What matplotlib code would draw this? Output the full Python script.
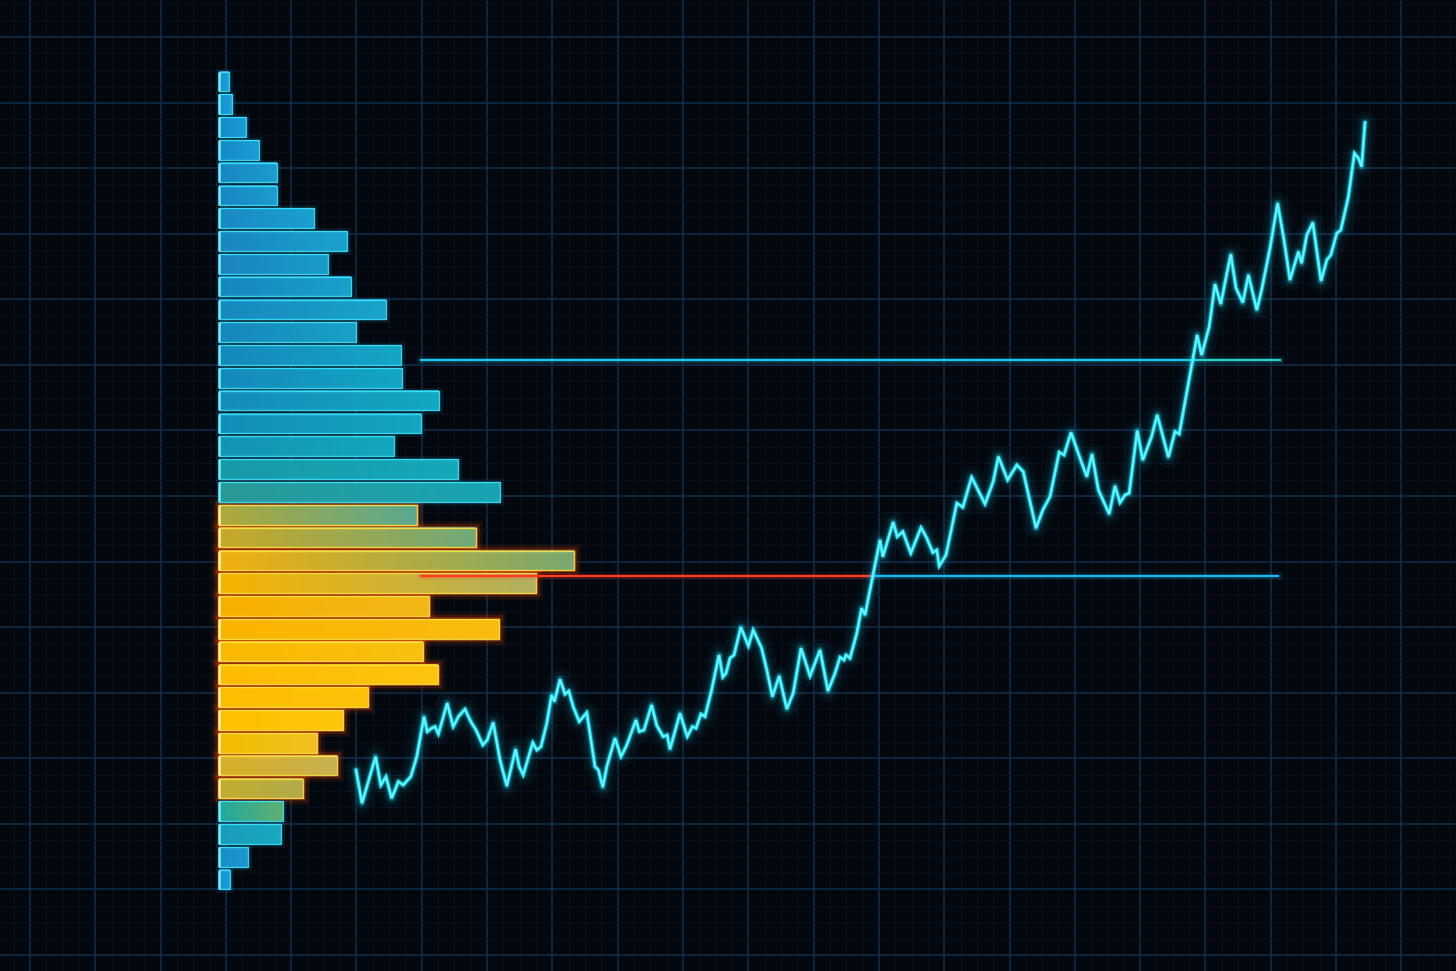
import numpy as np
import matplotlib
matplotlib.use("Agg")
import matplotlib.pyplot as plt
from matplotlib.colors import LinearSegmentedColormap
from matplotlib.patches import Rectangle
from matplotlib.ticker import MultipleLocator

# ---------------- data ----------------
# volume profile (top price bin first), volume in thousands
profile_low, profile_high = 99.9, 140.95
volume_top_down = [2.0, 2.6, 5.4, 8.0, 11.6, 11.6, 19.0, 25.6, 21.8, 26.4, 33.4, 27.4,
                   36.4, 36.6, 44.0, 40.4, 35.0, 47.8, 56.2, 39.6, 51.4, 71.0, 63.4, 42.0,
                   56.0, 40.8, 43.8, 29.8, 24.8, 19.6, 23.6, 16.8, 12.8, 12.4, 5.8, 2.2]

# price path (time in days, price)
time = [0.0, 1.5, 4.9, 6.2, 7.5, 8.9, 10.6, 11.8, 13.7, 15.2, 17.0, 17.8, 18.9, 19.75, 20.6,
        22.8, 24.3, 25.6, 27.25, 28.7, 30.0, 31.7, 32.8, 34.3, 36.0, 37.7, 39.9, 40.8, 41.8,
        44.2, 45.2, 46.25, 47.7, 48.9, 49.6, 51.0, 52.25, 53.2, 54.3, 55.8, 57.7, 59.75, 60.6,
        61.7, 62.7, 64.75, 66.25, 67.7, 70.0, 70.8, 72.0, 73.9, 75.2, 76.8, 77.8, 78.5, 81.0,
        82.8, 84.1, 85.0, 86.25, 87.25, 88.9, 90.75, 91.7, 92.5, 93.5, 94.5, 96.2, 98.1, 99.3,
        101.4, 102.7, 104.1, 105.8, 107.7, 109.3, 111.25, 113.5, 116.0, 118.0, 119.75, 121.0,
        122.0, 122.5, 123.5, 125.2, 126.4, 127.25, 131.0, 131.7, 134.3, 135.3, 136.7, 138.7,
        141.25, 142.7, 144.2, 145.2, 145.8, 147.5, 150.2, 151.7, 153.9, 157.25, 159.3, 160.6,
        162.9, 165.2, 166.8, 170.0, 171.7, 173.5, 175.8, 177.0, 178.75, 181.0, 182.7, 184.0,
        185.6, 188.3, 189.75, 191.0, 192.25, 193.3, 195.3, 196.7, 198.9, 200.3, 203.1, 204.75,
        205.8, 210.3, 211.4, 213.3, 214.75, 216.2, 217.25, 218.7, 220.0, 221.7, 223.1, 225.2,
        226.4, 228.5, 230.4, 232.0, 233.5, 235.6, 236.4, 237.7, 239.2, 241.25, 242.7, 243.7,
        245.2, 246.2, 248.1, 249.6, 250.6, 251.4, 252.25]
price = [105.95, 104.29, 106.62, 105.19, 105.62, 104.54, 105.37, 105.20, 105.62, 106.62,
         108.62, 107.87, 108.04, 108.12, 107.75, 109.29, 108.12, 108.62, 108.99, 108.37,
         107.95, 107.20, 107.45, 108.32, 106.45, 105.15, 106.99, 106.12, 105.70, 107.32,
         106.95, 107.12, 108.29, 109.70, 109.37, 110.49, 109.74, 109.90, 109.12, 108.37,
         108.82, 106.12, 105.95, 105.09, 106.12, 107.54, 106.62, 107.20, 108.45, 107.87,
         107.95, 109.20, 108.17, 107.62, 107.70, 106.99, 108.79, 107.62, 108.12, 108.04,
         108.75, 108.62, 109.95, 111.70, 110.59, 110.79, 111.54, 111.70, 113.09, 112.15,
         112.95, 112.04, 110.95, 109.62, 110.65, 109.00, 109.79, 112.04, 110.65, 111.95,
         109.90, 110.79, 111.59, 111.45, 111.70, 111.54, 112.79, 114.04, 113.70, 117.45,
         116.62, 118.34, 117.62, 117.87, 116.79, 118.07, 117.54, 116.82, 116.95, 116.15,
         116.70, 119.29, 119.09, 120.59, 119.25, 120.37, 121.62, 120.45, 121.20, 120.87,
         118.04, 118.95, 119.62, 121.84, 121.70, 122.82, 121.54, 120.62, 121.74, 119.95,
         118.75, 120.15, 119.32, 119.70, 119.79, 122.92, 121.45, 122.62, 123.70, 121.59,
         122.87, 122.75, 127.70, 126.70, 128.12, 130.24, 129.25, 130.32, 131.74, 130.04,
         129.32, 130.70, 128.95, 129.95, 132.04, 134.29, 132.45, 130.45, 131.87, 131.29,
         132.70, 133.32, 130.40, 131.45, 131.70, 132.79, 132.95, 134.62, 136.79, 136.54,
         136.12, 138.32]

value_area_high = 126.45
value_area_low = 115.65
level_start, vah_end, val_end = 16.25, 231.0, 230.5

# ---------------- styles ----------------
BG = "#03080f"
bar_left = ['#1a8fd0', '#1a8fd0', '#1888c8', '#1888c8', '#1a86c2', '#1a86c2', '#1a88c4',
            '#1a86c0', '#1a84c0', '#1886be', '#1888be', '#1886bc', '#1688bc', '#1689ba',
            '#168cba', '#148eb8', '#1494b6', '#1a9aa8', '#2a9a98', '#b0a83a', '#c8a828',
            '#f0b010', '#f6b400', '#f8b000', '#fab400', '#fbb800', '#ffbc00', '#ffbe00',
            '#ffc000', '#f2bc00', '#d8b028', '#c4ac30', '#20a8a0', '#1a9cbc', '#1a8cc8',
            '#1a92d0']
bar_right = ['#1aa0d8', '#1aa0d8', '#1a9ed4', '#1a9ed4', '#1c9ccf', '#1c9ccf', '#1aa0cf',
             '#1aa2cc', '#1a9cc8', '#18a0ca', '#18a4c8', '#18a2c6', '#14a6c6', '#12a6c4',
             '#12a8c2', '#12a6c0', '#12a8bc', '#14a8b8', '#18a4b4', '#5aa890', '#70a878',
             '#7aa870', '#b0b060', '#f0b818', '#f8bc10', '#f8c010', '#fcc410', '#fcc208',
             '#fcc608', '#f0c020', '#c8b050', '#b0aa48', '#60b070', '#18a8c0', '#1a98cc',
             '#1aa0d8']
warm = [False] * 19 + [True] * 13 + [False] * 4

fig = plt.figure(figsize=(14.56, 9.71), dpi=100)
fig.patch.set_facecolor(BG)

# background grid
ax_bg = fig.add_axes([0, 0, 1, 1])
ax_bg.set_zorder(-10)
ax_bg.set_facecolor(BG)
ax_bg.set_xlim(0, 1456)
ax_bg.set_ylim(971, 0)
ax_bg.xaxis.set_major_locator(MultipleLocator(65.3, offset=30))
ax_bg.yaxis.set_major_locator(MultipleLocator(65.57, offset=37))
ax_bg.xaxis.set_minor_locator(MultipleLocator(65.3 / 4, offset=30))
ax_bg.yaxis.set_minor_locator(MultipleLocator(65.57 / 4, offset=37))
ax_bg.grid(which='major', color='#0f2d4a', lw=1.1)
ax_bg.grid(which='minor', color='#08131f', lw=0.7)
ax_bg.tick_params(which='both', length=0, labelbottom=False, labelleft=False)
for s in ax_bg.spines.values():
    s.set_visible(False)

# volume axes (bars), price scale shared with the line axes
ax_v = fig.add_axes([0, 0, 1, 1])
ax_v.set_zorder(1)
ax_v.patch.set_alpha(0)
ax_v.axis('off')

# main price axes (line + levels), drawn above bars
ax = fig.add_axes([0, 0, 1, 1], sharey=ax_v)
ax.set_zorder(2)
ax.patch.set_alpha(0)
ax.axis('off')

edges = np.linspace(profile_low, profile_high, len(volume_top_down) + 1)
vols = list(reversed(volume_top_down))
lefts = list(reversed(bar_left))
rights = list(reversed(bar_right))
warms = list(reversed(warm))
bw = edges[1] - edges[0]
bh = bw * 0.86
for i, v in enumerate(vols):
    c = (edges[i] + edges[i + 1]) / 2
    y0, y1 = c - bh / 2, c + bh / 2
    if warms[i]:
        for lw, a in [(10, 0.08), (6, 0.16), (3, 0.3)]:
            ax_v.add_patch(Rectangle((0, y0), v, bh, fill=False, ec='#ff4a00', lw=lw,
                                     alpha=a, zorder=1))
    else:
        ax_v.add_patch(Rectangle((0, y0), v, bh, fill=False, ec='#20c8ff', lw=5,
                                 alpha=0.08, zorder=1))
    cmap = LinearSegmentedColormap.from_list('b%d' % i, [lefts[i], rights[i]])
    grad = np.linspace(0, 1, 64).reshape(1, -1)
    ax_v.imshow(grad, extent=[0, v, y0, y1], aspect='auto', cmap=cmap,
                interpolation='bilinear', zorder=2, origin='lower')
    ec = '#ffe34a' if warms[i] else '#3ee4ff'
    ax_v.add_patch(Rectangle((0, y0), v, bh, fill=False, ec=ec, lw=1.0, alpha=0.9, zorder=3))
    ax_v.plot([0, 0], [y0, y1], color='#fff4a0' if warms[i] else '#6ff0ff', lw=1.8,
              zorder=4, solid_capstyle='butt')
ax_v.set_xlim(-43.8, 247.4)

# level lines
t = np.array(time)
p = np.array(price)
def crossing(level):
    idx = np.where((p[:-1] < level) & (p[1:] >= level))[0][0]
    return t[idx] + (level - p[idx]) / (p[idx + 1] - p[idx]) * (t[idx + 1] - t[idx])

tc_low = crossing(value_area_low)
tc_high = crossing(value_area_high)
for lw, a in [(6, 0.08), (3.5, 0.15)]:
    ax.plot([level_start, vah_end], [value_area_high] * 2, color='#1cc8f0', lw=lw, alpha=a)
    ax.plot([level_start, tc_low], [value_area_low] * 2, color='#ff3a20', lw=lw, alpha=a)
    ax.plot([tc_low, val_end], [value_area_low] * 2, color='#1ab8f0', lw=lw, alpha=a)
ax.plot([level_start, tc_high], [value_area_high] * 2, color='#19c8f0', lw=1.6)
ax.plot([tc_high, vah_end], [value_area_high] * 2, color='#2ad0c4', lw=1.6)
ax.plot([level_start, tc_low], [value_area_low] * 2, color='#ff3a22', lw=1.6)
ax.plot([tc_low, val_end], [value_area_low] * 2, color='#1ab8f0', lw=1.6)

# price line with glow
for lw, a in [(16, 0.035), (10, 0.06), (6, 0.12), (3.8, 0.3)]:
    ax.plot(t, p, color='#1ee8ff', lw=lw, alpha=a, solid_joinstyle='round',
            solid_capstyle='round')
ax.plot(t, p, color='#2cecff', lw=2.2, solid_joinstyle='miter')
ax.plot(t, p, color='#a8fbff', lw=0.7, alpha=0.7, solid_joinstyle='miter')
ax.set_xlim(-89, 275)
ax.set_ylim(95.9, 144.45)

fig.savefig('out.png', dpi=100, facecolor=BG)
